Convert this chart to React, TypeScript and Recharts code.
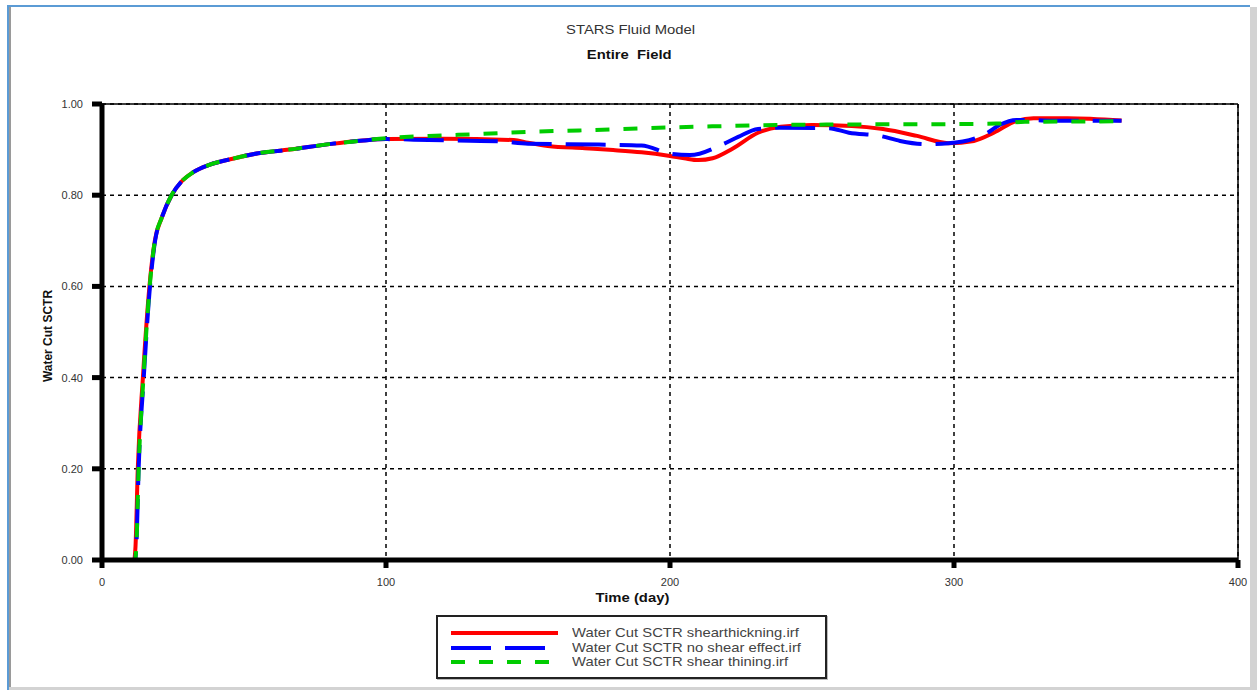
import React from 'react'
import {
  LineChart,
  Line,
  XAxis,
  YAxis,
  CartesianGrid,
  ReferenceLine,
} from 'recharts'

// Water cut (fraction) vs time in days, one array per run
const thickeningPts: [number, number][] = [
  [0, 0], [11.3, 0], [11.8, 0.03], [12.6, 0.2], [14.4, 0.4], [16.7, 0.6], [18.6, 0.7],
  [21, 0.75], [24.5, 0.8], [28, 0.83], [32, 0.85], [38, 0.867], [46, 0.88], [55, 0.892],
  [66, 0.9], [80, 0.912], [92, 0.92], [100, 0.923], [120, 0.924], [145, 0.921],
  [150, 0.915], [157, 0.908], [170, 0.903], [180, 0.899], [190, 0.894], [200, 0.886],
  [205, 0.881], [210, 0.877], [215, 0.881], [222, 0.902], [231, 0.937], [239, 0.95],
  [250, 0.954], [264, 0.952], [275, 0.945], [287, 0.93], [298, 0.914], [307, 0.919],
  [314, 0.937], [322, 0.963], [328, 0.969], [340, 0.969], [359, 0.964],
]

const noShearPts: [number, number][] = [
  [0, 0], [11.6, 0], [12.1, 0.03], [12.9, 0.2], [14.7, 0.4], [16.9, 0.6], [18.7, 0.7],
  [21, 0.75], [24.5, 0.8], [28, 0.83], [32, 0.85], [38, 0.867], [46, 0.88], [55, 0.892],
  [66, 0.9], [80, 0.912], [92, 0.92], [100, 0.923], [115, 0.921], [140, 0.918],
  [150, 0.913], [175, 0.911], [190, 0.909], [200, 0.891], [207, 0.888], [219, 0.913],
  [224, 0.928], [231, 0.945], [239, 0.948], [256, 0.947], [263, 0.937], [274, 0.93],
  [281, 0.919], [290, 0.912], [298, 0.914], [311, 0.934], [316, 0.954], [322, 0.965],
  [340, 0.963], [359, 0.963],
]

const thinningPts: [number, number][] = [
  [0, 0], [11.6, 0], [12.1, 0.03], [12.9, 0.2], [14.6, 0.4], [16.8, 0.6], [18.6, 0.7],
  [21, 0.75], [24.5, 0.8], [28, 0.83], [32, 0.85], [38, 0.867], [46, 0.88], [55, 0.892],
  [66, 0.9], [80, 0.912], [92, 0.92], [100, 0.925], [115, 0.93], [132, 0.934],
  [150, 0.939], [168, 0.942], [191, 0.947], [215, 0.951], [239, 0.954], [260, 0.955],
  [300, 0.956], [315, 0.957], [325, 0.961], [359, 0.962],
]

const xTicks = [0, 100, 200, 300, 400]
const yTicks = [0, 0.2, 0.4, 0.6, 0.8, 1.0]

const seriesNames = [
  'Water Cut SCTR shearthickning.irf',
  'Water Cut SCTR no shear effect.irf',
  'Water Cut SCTR shear thining.irf',
]

const toRows = (pts: [number, number][]) => pts.map(([t, wc]) => ({ t, wc }))

const series = [
  { name: seriesNames[0], data: toRows(thickeningPts), color: '#ff0000', dash: undefined },
  { name: seriesNames[1], data: toRows(noShearPts), color: '#0000ff', dash: '40 14' },
  { name: seriesNames[2], data: toRows(thinningPts), color: '#00cc00', dash: '14 14' },
]

const FONT = '"Liberation Sans", Arial, sans-serif'

function Stretched({ children, style }: { children: React.ReactNode; style: React.CSSProperties }) {
  return (
    <div style={{ position: 'absolute', whiteSpace: 'pre', ...style }}>
      <span style={{ display: 'inline-block', transform: 'scaleX(1.14)', transformOrigin: 'center' }}>
        {children}
      </span>
    </div>
  )
}

export default function App() {
  return (
    <div
      style={{
        position: 'absolute',
        left: 0,
        top: 0,
        width: 1257,
        height: 690,
        background: '#fff',
        fontFamily: FONT,
        overflow: 'hidden',
      }}
    >
      {/* window frame */}
      <div style={{ position: 'absolute', left: 7, top: 5, right: 7, height: 2, background: '#5b9bd5' }} />
      <div style={{ position: 'absolute', left: 7, top: 5, width: 2, bottom: 0, background: '#5b9bd5' }} />
      <div style={{ position: 'absolute', left: 9, top: 7, width: 2, bottom: 0, background: '#9a9a9a' }} />
      <div style={{ position: 'absolute', left: 1250, top: 7, width: 7, bottom: 0, background: '#d3d3d3' }} />
      <div style={{ position: 'absolute', left: 9, top: 687, right: 0, height: 3, background: '#d3d3d3' }} />

      <LineChart width={1257} height={690} margin={{ top: 104, right: 19, bottom: 90, left: 42 }}>
        <CartesianGrid stroke="#000" strokeDasharray="4 4" strokeWidth={1.5} />
        <XAxis
          type="number"
          dataKey="t"
          domain={[0, 400]}
          ticks={xTicks}
          height={40}
          axisLine={{ stroke: '#000', strokeWidth: 5 }}
          tickLine={{ stroke: '#000', strokeWidth: 5 }}
          tickSize={8}
          tickMargin={10}
          tick={{ fontSize: 11, fill: '#333', fontFamily: FONT }}
          allowDuplicatedCategory={false}
        />
        <YAxis
          type="number"
          domain={[0, 1]}
          ticks={yTicks}
          width={60}
          axisLine={{ stroke: '#000', strokeWidth: 5 }}
          tickLine={{ stroke: '#000', strokeWidth: 5 }}
          tickSize={10}
          tickMargin={9}
          tick={{ fontSize: 11, fill: '#333', fontFamily: FONT }}
          tickFormatter={(v: number) => v.toFixed(2)}
        />
        <ReferenceLine y={1} stroke="#000" strokeWidth={1.5} />
        <ReferenceLine x={400} stroke="#000" strokeWidth={1.5} />
        {series.map(s => (
          <Line
            key={s.name}
            name={s.name}
            data={s.data}
            dataKey="wc"
            type="monotone"
            stroke={s.color}
            strokeWidth={4}
            strokeDasharray={s.dash}
            dot={false}
            isAnimationActive={false}
          />
        ))}
      </LineChart>

      {/* titles */}
      <Stretched style={{ left: 0, width: 1262, top: 22, textAlign: 'center', fontSize: 13, color: '#333' }}>
        STARS Fluid Model
      </Stretched>
      <Stretched style={{ left: 0, width: 1258, top: 47, textAlign: 'center', fontSize: 13, fontWeight: 'bold', color: '#111' }}>
        {'Entire  Field'}
      </Stretched>
      <Stretched style={{ left: 0, width: 1264, top: 590, textAlign: 'center', fontSize: 13, fontWeight: 'bold', color: '#111' }}>
        Time (day)
      </Stretched>
      <div
        style={{
          position: 'absolute',
          left: 48,
          top: 336,
          transform: 'translate(-50%, -50%) rotate(-90deg)',
          fontSize: 12,
          fontWeight: 'bold',
          color: '#111',
          whiteSpace: 'pre',
        }}
      >
        Water Cut SCTR
      </div>

      {/* legend */}
      <div
        style={{
          position: 'absolute',
          left: 436,
          top: 615,
          width: 387,
          height: 60,
          border: '2px solid #222',
          boxShadow: '1px 1px 0 #bbb',
          background: '#fff',
        }}
      >
        {series.map((s, i) => (
          <div key={s.name} style={{ position: 'absolute', left: 11, top: 9 + i * 14.5, height: 14, width: 370 }}>
            <svg width={110} height={14} style={{ position: 'absolute', left: 0, top: 0 }}>
              <line x1={2} y1={7} x2={109} y2={7} stroke={s.color} strokeWidth={4} strokeDasharray={s.dash} />
            </svg>
            <span
              style={{
                position: 'absolute',
                left: 123,
                top: -1,
                fontSize: 13,
                lineHeight: '16px',
                color: '#444',
                whiteSpace: 'pre',
                display: 'inline-block',
                transform: 'scaleX(1.14)',
                transformOrigin: 'left center',
              }}
            >
              {s.name}
            </span>
          </div>
        ))}
      </div>
    </div>
  )
}
